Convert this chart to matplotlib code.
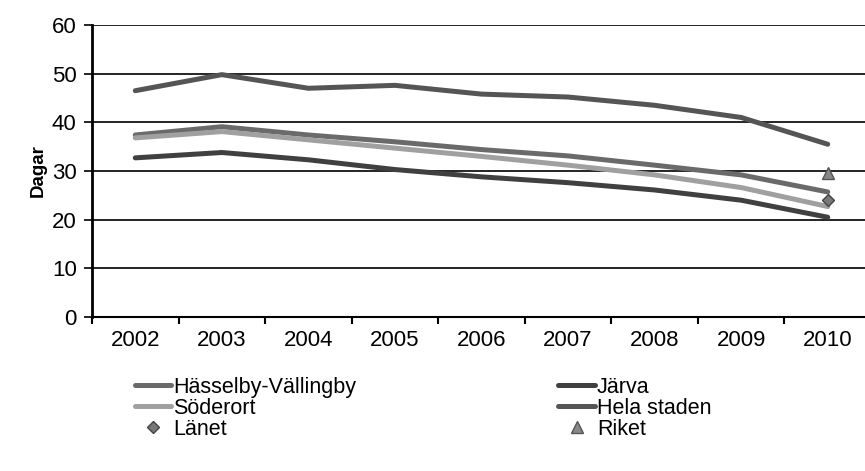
import matplotlib.pyplot as plt
import numpy as np

plt.rcParams['font.family'] = ['Liberation Sans', 'DejaVu Sans']

years = ['2002', '2003', '2004', '2005', '2006', '2007', '2008', '2009', '2010']
hasselby = [37.4, 39.1, 37.4, 36.0, 34.4, 33.1, 31.2, 29.2, 25.7]
jarva = [32.7, 33.8, 32.3, 30.3, 28.8, 27.6, 26.1, 24.0, 20.5]
soderort = [36.8, 38.1, 36.4, 34.7, 33.0, 31.2, 29.2, 26.6, 22.7]
hela = [46.5, 49.8, 47.0, 47.6, 45.8, 45.2, 43.5, 41.0, 35.5]
lanet_2010 = 24.0
riket_2010 = 29.6

fig = plt.figure(figsize=(8.65, 4.71), dpi=100)
ax = fig.add_axes([92 / 865, 154 / 471, 779 / 865, 292 / 471])

x = np.arange(len(years))
l1, = ax.plot(x, hasselby, color='#6a6a6a', lw=3.6, solid_capstyle='round', label='Hässelby-Vällingby')
l3, = ax.plot(x, soderort, color='#a0a0a0', lw=3.6, solid_capstyle='round', label='Söderort')
l2, = ax.plot(x, jarva, color='#404040', lw=3.6, solid_capstyle='round', label='Järva')
l4, = ax.plot(x, hela, color='#555555', lw=3.6, solid_capstyle='round', label='Hela staden')
m1, = ax.plot([x[-1]], [lanet_2010], 'D', color='#777777', ms=6, mec='#444444', ls='none', label='Länet')
m2, = ax.plot([x[-1]], [riket_2010], '^', color='#888888', ms=8, mec='#555555', ls='none', label='Riket')

ax.set_xlim(-0.5, len(years) - 0.5)
ax.set_ylim(0, 60)
ax.set_yticks(range(0, 61, 10))
ax.yaxis.grid(True, color='black', lw=1.2)
ax.set_axisbelow(True)
ax.set_xticks(x)
ax.set_xticklabels(years)
ax.set_xticks(np.arange(-0.5, len(years), 1), minor=True)
ax.tick_params(axis='x', which='major', length=0, pad=9, labelsize=16)
ax.tick_params(axis='x', which='minor', length=5, width=1.5, direction='out')
ax.tick_params(axis='y', length=6, width=1.2, labelsize=16, pad=5)

for s in ['top', 'right']:
    ax.spines[s].set_visible(False)
ax.spines['left'].set_linewidth(2)
ax.spines['bottom'].set_linewidth(1.5)

ax.set_ylabel('Dagar', fontsize=13.5, fontweight='bold', labelpad=4)

fig.legend(handles=[l1, l3, m1, l2, l4, m2], ncol=2, frameon=False,
           loc='upper left', bbox_to_anchor=(124 / 865, 1 - 366 / 471),
           fontsize=15.5, handlelength=1.7, handletextpad=0.08,
           columnspacing=9.4, labelspacing=0.0, borderpad=0)

fig.savefig('out.png', dpi=100)
